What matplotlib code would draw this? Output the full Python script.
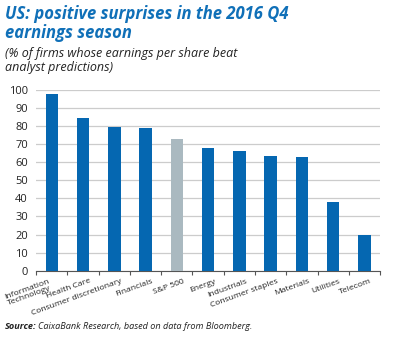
import matplotlib
matplotlib.use("Agg")
import matplotlib.pyplot as plt
import matplotlib.transforms as mtransforms
import numpy as np

categories = ['Information\nTechnology', 'Health Care', 'Consumer discretionary', 'Financials',
              'S&P 500', 'Energy', 'Industrials', 'Consumer staples', 'Materials',
              'Utilities', 'Telecom']
values = [97.8, 84.2, 79.6, 79.2, 73.1, 67.6, 66.1, 63.3, 63.1, 37.8, 19.7]
yticks = list(range(0, 101, 10))

blue = '#0567b1'
grey = '#aab9c0'
colors = [grey if c == 'S&P 500' else blue for c in categories]

plt.rcParams['font.family'] = ['Open Sans', 'DejaVu Sans']

fig = plt.figure(figsize=(3.93, 3.38), dpi=100)
ax = fig.add_axes([0.092, 0.199, 0.875, 0.535])

x = np.arange(len(categories))
ax.bar(x, values, width=0.4, color=colors, zorder=3)
ax.set_xlim(-0.5, len(categories) - 0.5)
ax.set_ylim(0, 100)
ax.set_yticks(yticks)
ax.set_yticklabels([str(t) for t in yticks], fontsize=8, color='#222222')
ax.tick_params(axis='y', length=0, pad=6)
ax.grid(axis='y', color='#cccccc', linewidth=0.9, zorder=0)

for s in ['top', 'right', 'left']:
    ax.spines[s].set_visible(False)
ax.spines['bottom'].set_color('#555555')
ax.spines['bottom'].set_linewidth(0.8)

# ticks at category boundaries, labels at centres
ax.set_xticks(np.arange(-0.5, len(categories)), minor=False)
ax.set_xticklabels([])
ax.tick_params(axis='x', direction='out', length=3, color='#555555')
ax.set_xticks(x, minor=True)
ax.set_xticklabels(categories, minor=True, rotation=20, ha='right', va='top',
                   rotation_mode='anchor', fontsize=6.1, color='#222222',
                   multialignment='center', linespacing=1.0)
ax.tick_params(axis='x', which='minor', length=0, pad=5)
for lab in ax.get_xticklabels(minor=True):
    dx = -4 if '\n' in lab.get_text() else 6
    shift = mtransforms.ScaledTranslation(dx / 100, 0, fig.dpi_scale_trans)
    lab.set_transform(lab.get_transform() + shift)

fig.text(0.013, 0.985, 'US: positive surprises in the 2016 Q4\nearnings season',
         fontsize=12, fontweight='bold', style='italic', color='#1070b8', va='top',
         linespacing=1.05)
fig.text(0.013, 0.862, '(% of firms whose earnings per share beat\nanalyst predictions)',
         fontsize=9, style='italic', color='#222222', va='top', linespacing=1.1)
fig.text(0.013, 0.028, 'Source:', fontsize=6.6, style='italic', fontweight='bold',
         color='#222222')
fig.text(0.097, 0.028, 'CaixaBank Research, based on data from Bloomberg.',
         fontsize=6.6, style='italic', color='#222222')

fig.savefig('out.png', dpi=100)
